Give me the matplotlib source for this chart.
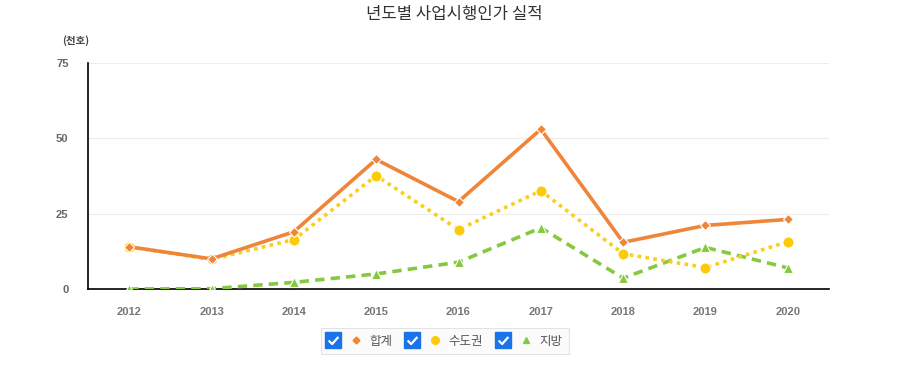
import matplotlib
matplotlib.use("Agg")
import matplotlib.pyplot as plt
from matplotlib.lines import Line2D
from matplotlib.path import Path
from matplotlib.legend_handler import HandlerTuple

plt.rcParams['font.family'] = ['Noto Sans CJK KR', 'DejaVu Sans']

years = ['2012', '2013', '2014', '2015', '2016', '2017', '2018', '2019', '2020']
total = [14.0, 10.0, 19.0, 43.0, 29.0, 53.0, 15.5, 21.1, 23.1]
capital = [14.0, 9.8, 16.4, 37.6, 19.7, 32.6, 11.7, 7.1, 15.7]
regional = [0.0, 0.1, 2.2, 5.0, 8.9, 20.3, 3.6, 13.8, 7.0]
series_names = ['합계', '수도권', '지방']
y_ticks = [0, 25, 50, 75]

orange = '#ef8539'
yellow = '#f7cf1c'
yellow_mk = '#fbcb0a'
green = '#85c93f'

fig = plt.figure(figsize=(9.09, 3.75), dpi=100)
ax = fig.add_axes([88 / 909, 1 - 289 / 375, (829 - 88) / 909, (289 - 63) / 375])

x = list(range(len(years)))
ax.plot(x, regional, color=green, lw=2.6, dashes=(2.6, 1.7), marker='^', ms=7,
        mfc=green, mec='white', mew=0.8, zorder=3)
ax.plot(x, capital, color=yellow, lw=2.6, linestyle=(0, (1, 1.2)), marker='o', ms=8,
        mfc=yellow_mk, mec='white', mew=0.8, zorder=4)
ax.plot(x, total, color=orange, lw=2.6, marker='D', ms=5.5,
        mfc=orange, mec='white', mew=0.8, zorder=5)

ax.set_xlim(-0.5, len(years) - 0.5)
ax.set_ylim(0, 75)
ax.set_yticks(y_ticks)
ax.set_xticks(x)
ax.set_xticklabels(years)
ax.tick_params(length=0, labelsize=8, pad=13)
ax.tick_params(axis='y', pad=14)
for lab in ax.get_xticklabels():
    lab.set_family('Liberation Sans')
    lab.set_fontweight('bold')
    lab.set_color('#777777')
for lab in ax.get_yticklabels():
    lab.set_family('Liberation Sans')
    lab.set_fontweight('bold')
    lab.set_color('#666666')
ax.grid(axis='y', color='#ececec', lw=0.8)
ax.set_axisbelow(True)
for s in ['top', 'right']:
    ax.spines[s].set_visible(False)
ax.spines['left'].set_color('black')
ax.spines['bottom'].set_color('black')
ax.spines['left'].set_linewidth(1.2)
ax.spines['bottom'].set_linewidth(1.2)

fig.text(0.5, 1 - 15 / 375, '년도별 사업시행인가 실적', ha='center', va='center',
         fontsize=12, color='#333333')
fig.text(62 / 909, 1 - 41 / 375, '(천호)', ha='left', va='center',
         fontsize=7.5, color='#444444', fontweight='bold')

# legend with checkbox-like handles
check_path = Path([(-0.55, 0.0), (-0.15, -0.4), (0.55, 0.4)],
                  [Path.MOVETO, Path.LINETO, Path.LINETO])


class Box(tuple):
    pass


def checkbox():
    box = Line2D([], [], marker='s', ms=11, mfc='#1a73e8', mec='#1a73e8', ls='none')
    tick = Line2D([], [], marker=check_path, ms=7, mfc='none', mec='white', mew=1.6, ls='none')
    return Box((box, tick))

handles = [
    (checkbox(), Line2D([], [], marker='D', ms=3.5, color=orange, ls='none')),
    (checkbox(), Line2D([], [], marker='o', ms=5.5, color=yellow_mk, ls='none')),
    (checkbox(), Line2D([], [], marker='^', ms=4.5, color=green, ls='none')),
]
leg = fig.legend(handles, series_names, loc='center', bbox_to_anchor=(444.5 / 909, 1 - 341 / 375),
                 ncol=3, handler_map={tuple: HandlerTuple(ndivide=None, pad=0.8),
                                      Box: HandlerTuple(ndivide=1)},
                 handlelength=2.8, handletextpad=0.6, columnspacing=1.1,
                 fontsize=9, frameon=True, fancybox=False, borderpad=0.5)
for t in leg.get_texts():
    t.set_color('#555555')
leg.get_frame().set_edgecolor('#dddddd')
leg.get_frame().set_facecolor('#fafafa')
leg.get_frame().set_linewidth(0.8)

fig.savefig('out.png', dpi=100)
